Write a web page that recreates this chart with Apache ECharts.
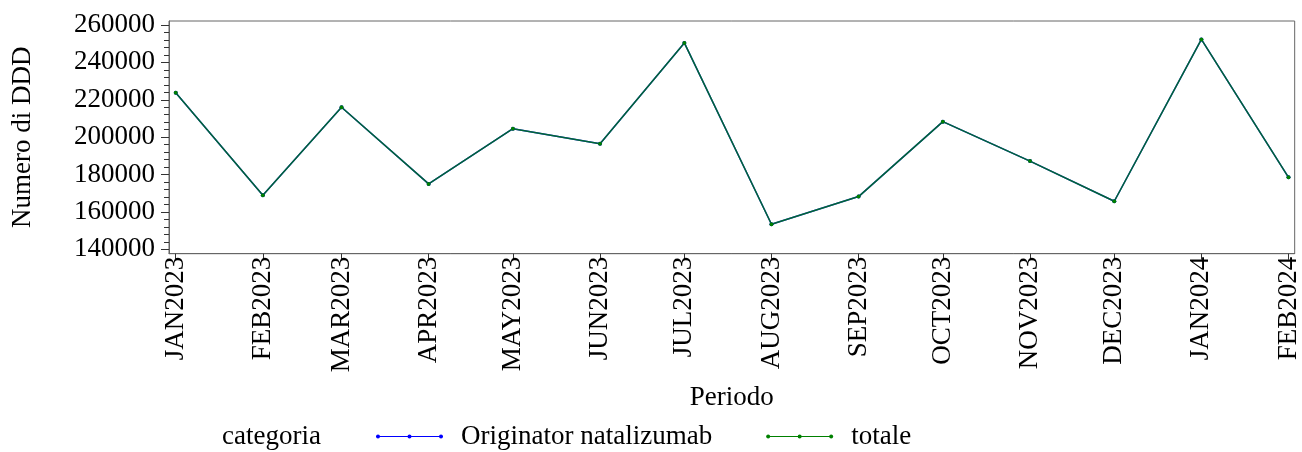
<!DOCTYPE html>
<html>
<head>
<meta charset="utf-8">
<script src="https://cdn.jsdelivr.net/npm/echarts@6/dist/echarts.min.js"></script>
<style>
  html, body { margin: 0; padding: 0; background: #ffffff; }
  #chart { width: 1302px; height: 452px; }
</style>
</head>
<body>
<div id="chart"></div>
<script>
// Monthly DDD counts, Jan 2023 - Feb 2024
const periods = ['JAN2023', 'FEB2023', 'MAR2023', 'APR2023', 'MAY2023', 'JUN2023', 'JUL2023',
                 'AUG2023', 'SEP2023', 'OCT2023', 'NOV2023', 'DEC2023', 'JAN2024', 'FEB2024'];
const originator = [223800, 168900, 216000, 175000, 204500, 196500, 250400,
                    153400, 168200, 208300, 187200, 165700, 252300, 178500];
const totale     = [223800, 168900, 216000, 175000, 204500, 196500, 250400,
                    153400, 168200, 208300, 187200, 165700, 252300, 178500];
const yTicks = [140000, 160000, 180000, 200000, 220000, 240000, 260000];

// Periods sit on a real calendar scale: days since the first month
const MONTHS = ['JAN','FEB','MAR','APR','MAY','JUN','JUL','AUG','SEP','OCT','NOV','DEC'];
const toUTC = p => Date.UTC(+p.slice(3), MONTHS.indexOf(p.slice(0, 3)), 1);
const base = toUTC(periods[0]);
const days = periods.map(p => (toUTC(p) - base) / 864e5);

const FONT = "'Liberation Serif', 'Times New Roman', serif";
const FS = 27;
const AXIS = '#666666';
const TICK = '#333333';

// Frame grid holds the data; tick grid carries the value ticks, inset a few px
const frameTop = 21, frameBottom = 198.3;
const tickTop = 25, tickBottom = 202.7;
const yMin = yTicks[0], yMax = yTicks[yTicks.length - 1];
const unitPerPx = (yMax - yMin) / ((452 - tickBottom) - tickTop);
const frameMax = yMax + (tickTop - frameTop) * unitPerPx;
const frameMin = yMin - ((452 - frameBottom) - (452 - tickBottom)) * unitPerPx;

const toPairs = arr => arr.map((v, i) => [days[i], v]);

// legend glyph: a line with three dots
const lineIcon = 'path://M0,1.6 L67,1.6 L67,2.4 L0,2.4 Z ' +
  'M0,2 A2,2 0 1 1 4,2 A2,2 0 1 1 0,2 Z ' +
  'M31.5,2 A2,2 0 1 1 35.5,2 A2,2 0 1 1 31.5,2 Z ' +
  'M63,2 A2,2 0 1 1 67,2 A2,2 0 1 1 63,2 Z';

const textBase = { fontFamily: FONT, fontSize: FS, fontWeight: 'normal', color: '#000' };

const chart = echarts.init(document.getElementById('chart'), null, { renderer: 'canvas' });
chart.setOption({
  animation: false,
  backgroundColor: '#ffffff',
  textStyle: { fontFamily: FONT, color: '#000' },
  title: {
    text: 'categoria',
    left: 222, top: 423, padding: 0,
    textStyle: textBase
  },
  legend: {
    left: 376, top: 423, padding: 0,
    itemWidth: 67, itemHeight: 4, itemGap: 54,
    selectedMode: false,
    textStyle: Object.assign({}, textBase, { padding: [0, 0, 0, 13] }),
    data: [
      { name: 'Originator natalizumab', icon: lineIcon },
      { name: 'totale', icon: lineIcon }
    ]
  },
  grid: [
    { left: 169, right: 5, top: frameTop, bottom: frameBottom, show: true,
      borderColor: AXIS, borderWidth: 1, backgroundColor: 'transparent' },
    { left: 169, right: 5, top: tickTop, bottom: tickBottom, show: false }
  ],
  xAxis: [
    {
      gridIndex: 0, type: 'value',
      min: days[0] - 2.4, max: days[days.length - 1] + 2.2,
      name: 'Periodo', nameLocation: 'middle', nameGap: 131,
      nameTextStyle: textBase,
      axisLine: { show: true, onZero: false, lineStyle: { color: AXIS, width: 1 } },
      axisTick: { show: true, length: 6, lineStyle: { color: TICK }, customValues: days },
      axisLabel: Object.assign({}, textBase, {
        rotate: 90, margin: 3,
        customValues: days,
        formatter: v => periods[days.indexOf(v)] || ''
      }),
      splitLine: { show: false }
    },
    { gridIndex: 1, type: 'value', show: false, min: 0, max: 1 }
  ],
  yAxis: [
    {
      gridIndex: 0, type: 'value', min: frameMin, max: frameMax,
      name: 'Numero di DDD', nameLocation: 'middle', nameGap: 133, nameRotate: 90,
      nameTextStyle: textBase,
      axisLine: { show: true, onZero: false, lineStyle: { color: AXIS, width: 1 } },
      axisTick: { show: false },
      axisLabel: { show: false },
      splitLine: { show: false }
    },
    {
      gridIndex: 1, type: 'value', min: yMin, max: yMax, interval: yTicks[1] - yTicks[0],
      axisLine: { show: false, onZero: false },
      axisTick: { show: true, inside: false, length: 8, lineStyle: { color: TICK } },
      minorTick: { show: true, splitNumber: 5, length: 5, lineStyle: { color: TICK } },
      axisLabel: Object.assign({}, textBase, { margin: 14, formatter: v => String(v) }),
      splitLine: { show: false },
      minorSplitLine: { show: false }
    }
  ],
  series: [
    {
      name: 'Originator natalizumab', type: 'line',
      xAxisIndex: 0, yAxisIndex: 0,
      data: toPairs(originator),
      color: '#0000ff',
      symbol: 'circle', symbolSize: 4, showSymbol: true,
      lineStyle: { color: '#0000ff', width: 1.5 },
      itemStyle: { color: '#0000ff' },
      emphasis: { disabled: true }
    },
    {
      name: 'totale', type: 'line',
      xAxisIndex: 0, yAxisIndex: 0,
      data: toPairs(totale),
      color: '#008000',
      symbol: 'circle', symbolSize: 4, showSymbol: true,
      lineStyle: { color: '#008000', width: 1.5, opacity: 0.8 },
      itemStyle: { color: '#008000' },
      emphasis: { disabled: true }
    }
  ]
});
</script>
</body>
</html>
